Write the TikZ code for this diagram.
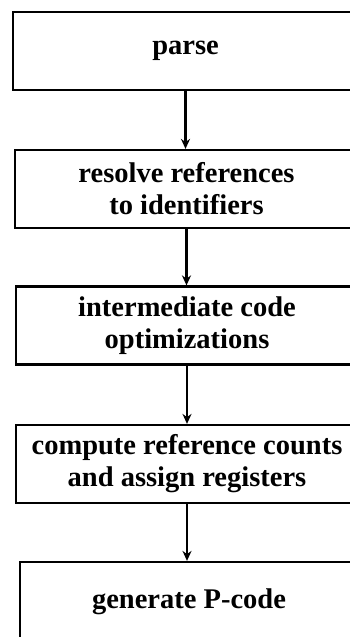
\documentclass[tikz,border=0pt]{standalone}
\usepackage{fontspec}
\setmainfont{Liberation Serif}
\usetikzlibrary{arrows.meta}
\tikzset{
  stage/.style={draw,line width=2.2pt,minimum width=#1,minimum height=78pt,inner sep=2pt,align=center,font=\fontsize{28.5}{32}\selectfont\bfseries},
  stage/.default={345pt},
  arr/.style={-{Stealth[length=10pt,width=9pt]},line width=2.6pt},
}
\begin{document}
\begin{tikzpicture}[x=1pt,y=-1pt]
 \useasboundingbox (0,0) rectangle (350,637);
 \clip (0,0) rectangle (350,637);
 \node[stage] (parse) at (185.5,51){parse};
 \node[stage=343pt] (resolve) at (186.5,189){resolve references\\to identifiers};
 \node[stage=342pt] (optim) at (187,325.5){intermediate code\\optimizations};
 \node[stage=342pt] (regs) at (187,464){compute reference counts\\and assign registers};
 \node[stage=338pt,minimum height=80pt] (pcode) at (189,602){generate P-code};
 \draw[arr] (parse.south) -- (parse.south |- resolve.north);
 \draw[arr] (resolve.south) -- (resolve.south |- optim.north);
 \draw[arr] (optim.south) -- (optim.south |- regs.north);
 \draw[arr] (regs.south) -- (regs.south |- pcode.north);
\end{tikzpicture}
\end{document}
